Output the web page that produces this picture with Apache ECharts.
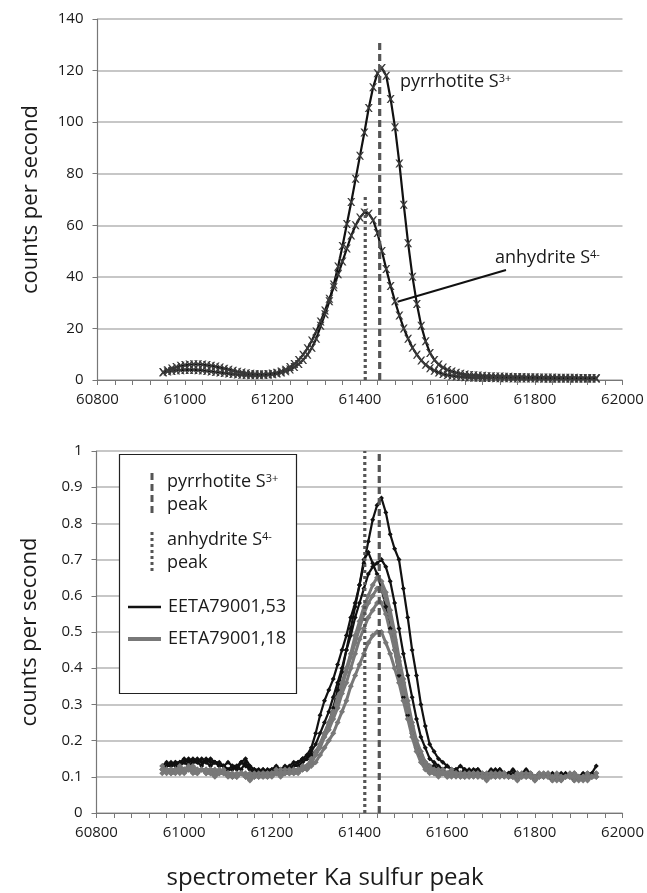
<!DOCTYPE html>
<html><head><meta charset="utf-8">
<script src="https://cdn.jsdelivr.net/npm/echarts@6/dist/echarts.min.js"></script>
<style>html,body{margin:0;padding:0;background:#fff}#c{width:647px;height:893px}</style>
</head><body><div id="c"></div>
<script>
// ---------- data ----------
const energy = [
60950,60960,60970,60980,60990,61000,61010,61020,61030,61040,
61050,61060,61070,61080,61090,61100,61110,61120,61130,61140,
61150,61160,61170,61180,61190,61200,61210,61220,61230,61240,
61250,61260,61270,61280,61290,61300,61310,61320,61330,61340,
61350,61360,61370,61380,61390,61400,61410,61420,61430,61440,
61450,61460,61470,61480,61490,61500,61510,61520,61530,61540,
61550,61560,61570,61580,61590,61600,61610,61620,61630,61640,
61650,61660,61670,61680,61690,61700,61710,61720,61730,61740,
61750,61760,61770,61780,61790,61800,61810,61820,61830,61840,
61850,61860,61870,61880,61890,61900,61910,61920,61930,61940];

const pyrrhotite = [
3.0,3.3,3.5,3.7,3.8,3.9,3.9,3.9,3.8,3.7,
3.5,3.3,3.1,2.9,2.7,2.5,2.3,2.1,2.0,1.9,
1.8,1.8,1.8,1.9,2.0,2.2,2.5,2.9,3.4,4.1,
5.0,6.2,7.8,9.8,12.5,16,21,25.5,30.5,37,
44,52,60.5,69,78,87,96,105.5,113.5,119,
121,118,109,98,84,68,53,40,29.5,21,
15,10.5,7.8,6.0,4.8,3.9,3.3,2.8,2.4,2.1,
1.9,1.8,1.7,1.6,1.5,1.5,1.4,1.4,1.3,1.3,
1.2,1.2,1.2,1.1,1.1,1.1,1.0,1.0,1.0,1.0,
0.9,0.9,0.9,0.9,0.9,0.8,0.8,0.8,0.8,0.8];

const anhydrite = [
3.0,3.8,4.5,5.0,5.5,5.8,6.0,6.1,6.1,6.0,
5.8,5.5,5.2,4.8,4.4,4.0,3.6,3.2,2.9,2.6,
2.4,2.3,2.2,2.2,2.3,2.5,2.8,3.3,4.0,5.0,
6.2,7.8,9.8,12.3,15.3,18.8,22.7,27,31.5,36,
41,46,51,56,60,63,65,64.5,62,57,
50,43,36.5,30.5,25,20,16,12.5,9.8,7.6,
5.9,4.6,3.6,2.9,2.3,1.9,1.6,1.4,1.2,1.1,
1.0,0.9,0.9,0.8,0.8,0.8,0.7,0.7,0.7,0.7,
0.6,0.6,0.6,0.6,0.6,0.6,0.6,0.5,0.5,0.5,
0.5,0.5,0.5,0.5,0.5,0.5,0.5,0.5,0.5,0.5];

// EETA79001,53 (black) traverses
const eeta53_1 = [
0.13,0.14,0.13,0.14,0.14,0.15,0.14,0.15,0.14,0.15,
0.14,0.15,0.14,0.14,0.13,0.14,0.13,0.13,0.14,0.15,
0.13,0.12,0.12,0.11,0.12,0.12,0.12,0.12,0.13,0.12,
0.13,0.14,0.15,0.15,0.16,0.17,0.19,0.22,0.25,0.29,
0.34,0.39,0.45,0.51,0.57,0.63,0.69,0.75,0.81,0.85,
0.87,0.83,0.77,0.73,0.70,0.62,0.54,0.45,0.38,0.30,
0.24,0.19,0.17,0.15,0.14,0.13,0.12,0.12,0.13,0.12,
0.11,0.12,0.12,0.11,0.11,0.12,0.11,0.12,0.11,0.11,
0.12,0.11,0.10,0.11,0.11,0.10,0.11,0.10,0.10,0.11,
0.10,0.09,0.10,0.10,0.11,0.10,0.10,0.11,0.11,0.13];
const eeta53_2 = [
0.12,0.13,0.13,0.14,0.13,0.14,0.15,0.14,0.14,0.13,
0.15,0.14,0.14,0.13,0.13,0.12,0.13,0.12,0.14,0.13,
0.12,0.12,0.11,0.12,0.11,0.12,0.13,0.12,0.12,0.13,
0.14,0.14,0.15,0.16,0.18,0.22,0.27,0.31,0.34,0.37,
0.41,0.45,0.49,0.54,0.58,0.63,0.70,0.72,0.69,0.66,
0.62,0.57,0.51,0.45,0.38,0.32,0.27,0.22,0.18,0.16,
0.14,0.13,0.13,0.12,0.12,0.11,0.12,0.11,0.11,0.12,
0.11,0.10,0.11,0.11,0.10,0.11,0.12,0.11,0.10,0.11,
0.10,0.10,0.11,0.12,0.11,0.10,0.10,0.11,0.10,0.09,
0.10,0.11,0.10,0.10,0.09,0.10,0.11,0.10,0.10,0.11];
const eeta53_3 = [
0.13,0.13,0.14,0.13,0.14,0.14,0.13,0.14,0.15,0.14,
0.14,0.13,0.14,0.13,0.13,0.12,0.12,0.13,0.12,0.14,
0.12,0.11,0.11,0.12,0.11,0.11,0.12,0.12,0.12,0.12,
0.13,0.13,0.14,0.15,0.17,0.19,0.22,0.25,0.28,0.32,
0.36,0.40,0.45,0.49,0.54,0.58,0.62,0.66,0.68,0.69,
0.70,0.68,0.64,0.58,0.51,0.44,0.38,0.32,0.26,0.21,
0.18,0.15,0.14,0.13,0.12,0.13,0.12,0.12,0.11,0.11,
0.12,0.11,0.12,0.11,0.10,0.11,0.11,0.12,0.11,0.10,
0.11,0.11,0.10,0.10,0.11,0.10,0.11,0.10,0.10,0.09,
0.10,0.10,0.11,0.10,0.09,0.10,0.10,0.11,0.10,0.11];

// EETA79001,18 (grey) traverses
const eeta18_1 = [
0.12,0.12,0.11,0.12,0.12,0.12,0.13,0.12,0.12,0.12,
0.11,0.12,0.12,0.11,0.11,0.11,0.11,0.10,0.11,0.11,
0.10,0.10,0.11,0.11,0.11,0.11,0.11,0.12,0.11,0.11,
0.12,0.12,0.12,0.13,0.14,0.16,0.19,0.22,0.25,0.28,
0.32,0.36,0.40,0.44,0.49,0.53,0.57,0.60,0.63,0.65,
0.64,0.61,0.56,0.50,0.43,0.37,0.31,0.25,0.20,0.17,
0.14,0.13,0.12,0.12,0.11,0.11,0.12,0.11,0.11,0.10,
0.11,0.11,0.10,0.11,0.10,0.11,0.11,0.10,0.11,0.10,
0.10,0.11,0.10,0.11,0.10,0.10,0.11,0.10,0.10,0.10,
0.11,0.10,0.10,0.10,0.09,0.10,0.10,0.11,0.10,0.10];
const eeta18_2 = [
0.13,0.12,0.12,0.12,0.13,0.12,0.12,0.13,0.12,0.12,
0.12,0.12,0.11,0.12,0.11,0.11,0.10,0.11,0.11,0.10,
0.11,0.10,0.10,0.11,0.11,0.11,0.12,0.11,0.12,0.11,
0.12,0.12,0.13,0.13,0.15,0.17,0.19,0.22,0.25,0.28,
0.31,0.35,0.39,0.43,0.47,0.51,0.55,0.58,0.60,0.62,
0.62,0.59,0.54,0.48,0.42,0.36,0.30,0.24,0.19,0.16,
0.14,0.12,0.12,0.11,0.12,0.11,0.11,0.10,0.11,0.11,
0.10,0.11,0.11,0.10,0.11,0.10,0.10,0.11,0.11,0.10,
0.10,0.11,0.10,0.10,0.11,0.10,0.10,0.11,0.10,0.09,
0.10,0.10,0.10,0.11,0.10,0.09,0.10,0.10,0.10,0.11];
const eeta18_3 = [
0.12,0.11,0.12,0.12,0.11,0.12,0.12,0.12,0.11,0.12,
0.12,0.11,0.11,0.11,0.12,0.11,0.10,0.10,0.11,0.10,
0.10,0.11,0.10,0.10,0.10,0.11,0.11,0.11,0.11,0.12,
0.11,0.12,0.12,0.13,0.14,0.16,0.18,0.21,0.23,0.26,
0.29,0.33,0.36,0.40,0.44,0.48,0.51,0.54,0.56,0.58,
0.58,0.55,0.50,0.45,0.39,0.33,0.28,0.22,0.18,0.15,
0.13,0.12,0.11,0.11,0.11,0.10,0.11,0.11,0.10,0.10,
0.11,0.10,0.11,0.10,0.10,0.11,0.10,0.10,0.11,0.10,
0.10,0.10,0.11,0.10,0.10,0.09,0.10,0.10,0.11,0.10,
0.10,0.09,0.10,0.10,0.11,0.10,0.09,0.10,0.10,0.10];
const eeta18_4 = [
0.11,0.12,0.11,0.11,0.12,0.11,0.12,0.11,0.11,0.12,
0.11,0.11,0.10,0.11,0.11,0.10,0.10,0.10,0.11,0.10,
0.09,0.10,0.10,0.10,0.10,0.10,0.11,0.10,0.11,0.11,
0.11,0.11,0.12,0.12,0.13,0.14,0.16,0.18,0.20,0.22,
0.25,0.28,0.31,0.35,0.38,0.41,0.44,0.47,0.49,0.50,
0.50,0.47,0.44,0.40,0.36,0.31,0.26,0.21,0.17,0.14,
0.12,0.11,0.11,0.10,0.11,0.10,0.10,0.11,0.10,0.10,
0.10,0.11,0.10,0.10,0.09,0.10,0.10,0.11,0.10,0.10,
0.10,0.09,0.10,0.10,0.10,0.09,0.10,0.10,0.11,0.10,
0.09,0.10,0.10,0.10,0.11,0.10,0.10,0.09,0.10,0.10];

const pyrrhotitePeakX = 61445;
const anhydritePeakX = 61412;
const topDashedTop = 132;
const topDottedTop = 71;
const xTickValues = [60800, 62000, 200];
const topYTicks = [0, 140, 20];
const bottomYTicks = [0, 1, 0.1];

// ---------- chart ----------
const FONT = 'Open Sans';
const pairs = arr => energy.map((x, i) => [x, arr[i]]);
const XMARK = 'path://M0,0L2,0L5,3.6L8,0L10,0L6.2,5L10,10L8,10L5,6.4L2,10L0,10L3.8,5Z';

function xAxis(gi) {
  return {
    type: 'value', gridIndex: gi,
    min: xTickValues[0], max: xTickValues[1], interval: xTickValues[2],
    axisLine: { show: true, onZero: false, lineStyle: { color: '#777', width: 1.2 } },
    axisTick: { show: true, length: 5, lineStyle: { color: '#777' } },
    minorTick: { show: true, splitNumber: 5, length: 5, lineStyle: { color: '#777' } },
    splitLine: { show: false },
    axisLabel: { color: '#1a1a1a', fontFamily: FONT, fontSize: 15, margin: 12,
      formatter: v => String(Math.round(v)) }
  };
}
function yAxis(gi, t) {
  return {
    type: 'value', gridIndex: gi, min: t[0], max: t[1], interval: t[2],
    name: 'counts per second', nameLocation: 'middle', nameRotate: 90, nameGap: 56,
    nameTextStyle: { fontFamily: FONT, fontSize: 22, color: '#1a1a1a' },
    axisLine: { show: true, lineStyle: { color: '#777', width: 1.2 } },
    axisTick: { show: true, length: 5, lineStyle: { color: '#777' } },
    splitLine: { show: true, lineStyle: { color: '#b4b4b4', width: 1.5 } },
    axisLabel: { color: '#1a1a1a', fontFamily: FONT, fontSize: 15, margin: 14,
      formatter: v => String(+v.toFixed(2)) }
  };
}

const series = [];
function topLine(name, arr) {
  series.push({
    name, type: 'line', xAxisIndex: 0, yAxisIndex: 0, data: pairs(arr),
    symbol: XMARK, symbolSize: 8, itemStyle: { color: '#3a3a3a' },
    lineStyle: { color: '#111', width: 2.2 }, animation: false, z: 3
  });
}
topLine('pyrrhotite', pyrrhotite);
topLine('anhydrite', anhydrite);

function botLine(name, arr, color, w, s) {
  series.push({
    name, type: 'line', xAxisIndex: 1, yAxisIndex: 1, data: pairs(arr),
    symbol: 'diamond', symbolSize: s, itemStyle: { color },
    lineStyle: { color, width: w }, animation: false, z: 3
  });
}
botLine('EETA79001,53', eeta53_1, '#111', 2.2, 5);
botLine('EETA79001,53', eeta53_2, '#111', 2.2, 5);
botLine('EETA79001,53', eeta53_3, '#111', 2.2, 5);
botLine('EETA79001,18', eeta18_1, '#787878', 3, 6);
botLine('EETA79001,18', eeta18_2, '#787878', 3, 6);
botLine('EETA79001,18', eeta18_3, '#787878', 3, 6);
botLine('EETA79001,18', eeta18_4, '#787878', 3, 6);

function vline(gi, x, top, dash) {
  series.push({
    type: 'line', xAxisIndex: gi, yAxisIndex: gi, data: [[x, 0], [x, top]],
    symbol: 'none', animation: false, z: 5,
    lineStyle: { color: '#555', width: 3.2, type: dash }
  });
}
vline(0, pyrrhotitePeakX, topDashedTop, [7, 4]);
vline(0, anhydritePeakX, topDottedTop, [3, 3]);
vline(1, pyrrhotitePeakX, bottomYTicks[1], [7, 4]);
vline(1, anhydritePeakX, bottomYTicks[1], [3, 3]);

const rich = {
  a: { fontFamily: FONT, fontSize: 18, color: '#1a1a1a' },
  s: { fontFamily: FONT, fontSize: 11, color: '#1a1a1a', verticalAlign: 'top' }
};
function txt(x, y, rtext) {
  return { type: 'text', x, y, z: 20,
    style: { text: rtext, rich, fill: '#1a1a1a', font: '18px "Open Sans"', verticalAlign: 'middle' } };
}

const graphic = [
  txt(400, 82, '{a|pyrrhotite S}{s|3+}'),
  txt(495, 258, '{a|anhydrite S}{s|4-}'),
  { type: 'line', z: 20, shape: { x1: 506, y1: 270, x2: 397.5, y2: 301.7 }, style: { stroke: '#111', lineWidth: 2 } },
  // legend box
  { type: 'rect', z: 15, shape: { x: 119.5, y: 454.5, width: 177, height: 239 }, style: { fill: '#fff', stroke: '#222', lineWidth: 1.2 } },
  { type: 'line', z: 20, shape: { x1: 152, y1: 473, x2: 152, y2: 513 }, style: { stroke: '#555', lineWidth: 3, lineDash: [7, 4] } },
  txt(167, 482, '{a|pyrrhotite S}{s|3+}'),
  txt(167, 505, '{a|peak}'),
  { type: 'line', z: 20, shape: { x1: 152, y1: 532, x2: 152, y2: 574 }, style: { stroke: '#555', lineWidth: 3, lineDash: [3, 3] } },
  txt(167, 540, '{a|anhydrite S}{s|4-}'),
  txt(167, 563, '{a|peak}'),
  { type: 'line', z: 20, shape: { x1: 128, y1: 607, x2: 161, y2: 607 }, style: { stroke: '#111', lineWidth: 2.5 } },
  txt(168, 607, '{a|EETA79001,53}'),
  { type: 'line', z: 20, shape: { x1: 128, y1: 639, x2: 161, y2: 639 }, style: { stroke: '#787878', lineWidth: 4 } },
  txt(168, 639, '{a|EETA79001,18}'),
  // x axis title
  { type: 'text', x: 325, y: 878, z: 20, style: { text: 'spectrometer Ka sulfur peak', fill: '#1a1a1a', font: '24px "Open Sans"', align: 'center', verticalAlign: 'middle' } }
];

const chart = echarts.init(document.getElementById('c'), null, { renderer: 'canvas' });
chart.setOption({
  backgroundColor: '#fff',
  animation: false,
  grid: [
    { left: 97.5, right: 24.5, top: 19, height: 361 },
    { left: 96.5, right: 22.7, top: 451, height: 362 }
  ],
  xAxis: [xAxis(0), xAxis(1)],
  yAxis: [yAxis(0, topYTicks), yAxis(1, bottomYTicks)],
  series,
  graphic
});
</script></body></html>
